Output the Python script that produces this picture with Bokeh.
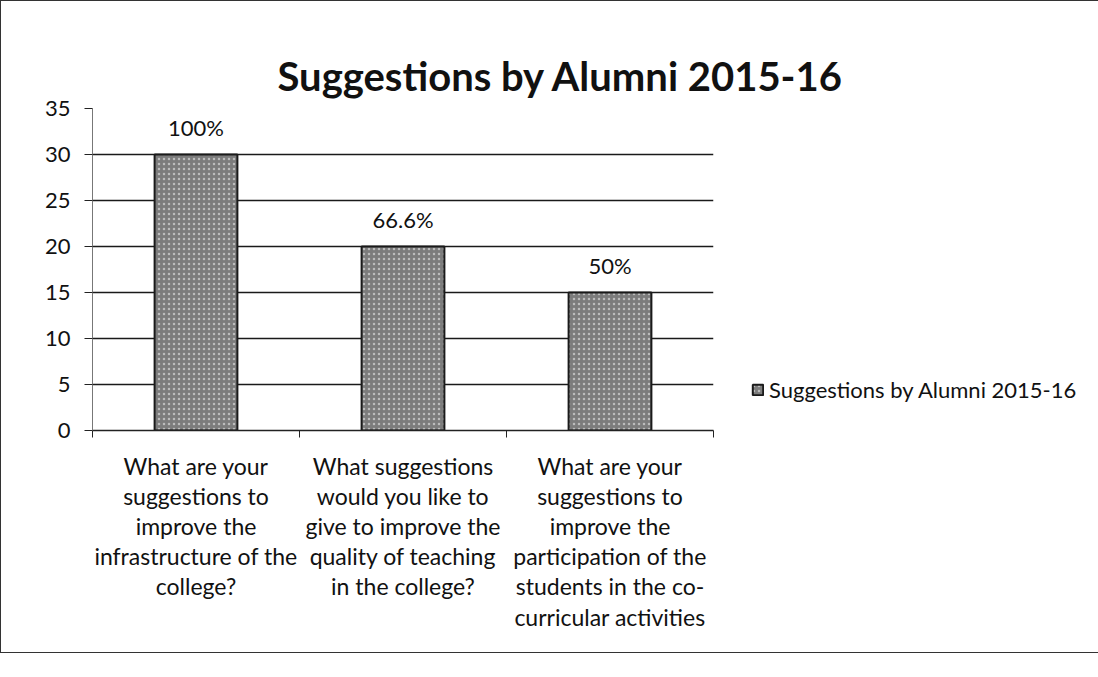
from bokeh.plotting import figure
from bokeh.models import (Range1d, FixedTicker, Legend, LegendItem, ColumnDataSource, Title)
from bokeh.core.properties import value
from bokeh.embed import file_html
from bokeh.resources import INLINE

categories = [
    "What are your\nsuggestions to\nimprove the\ninfrastructure of the\ncollege?",
    "What suggestions\nwould you like to\ngive to improve the\nquality of teaching\nin the college?",
    "What are your\nsuggestions to\nimprove the\nparticipation of the\nstudents in the co-\ncurricular activities",
]
values = [30, 20, 15]
pct_labels = ["100%", "66.6%", "50%"]
y_ticks = [0, 5, 10, 15, 20, 25, 30, 35]
series_name = "Suggestions by Alumni 2015-16"
title_text = "Suggestions by Alumni 2015-16"

FONT = "Lato"
xs = [i + 0.5 for i in range(len(categories))]

p = figure(frame_width=621, frame_height=322, output_backend="svg", toolbar_location=None,
           x_range=Range1d(0, 3), y_range=Range1d(0, 35),
           min_border_left=91, min_border_right=0, min_border_top=107, min_border_bottom=222)
p.outline_line_color = None
p.background_fill_color = "white"
p.border_fill_color = "white"

src = ColumnDataSource(dict(x=xs, top=values, lab=pct_labels))
r = p.vbar(x="x", top="top", width=0.4, source=src, fill_color="#7c7c7c",
           line_color="#1a1a1a", line_width=2,
           hatch_pattern="dot", hatch_color="#bdbdbd", hatch_scale=5, hatch_weight=1)
p.text(x="x", y="top", text="lab", source=src, text_align="center", text_baseline="bottom",
       y_offset=-14, text_font=value(FONT), text_font_size="22px", text_color="#111111")

# axes
p.xaxis.ticker = FixedTicker(ticks=xs, minor_ticks=[0, 1, 2, 3])
p.xaxis.major_label_overrides = {x: c for x, c in zip(xs, categories)}
p.xaxis.major_tick_out = 0
p.xaxis.major_tick_in = 0
p.xaxis.minor_tick_out = 7
p.xaxis.minor_tick_in = 0
p.xaxis.minor_tick_line_color = "#222222"
p.xaxis.axis_line_color = "#222222"
p.xaxis.axis_line_width = 1.5
p.xaxis.major_label_text_font = FONT
p.xaxis.major_label_text_font_size = "23px"
p.xaxis.major_label_text_line_height = 1.08
p.xaxis.major_label_text_color = "#111111"
p.xaxis.major_label_standoff = 14

p.yaxis.ticker = FixedTicker(ticks=y_ticks)
p.yaxis.minor_tick_line_color = None
p.yaxis.major_tick_out = 8
p.yaxis.major_tick_in = 0
p.yaxis.major_tick_line_color = "#222222"
p.yaxis.axis_line_color = "#777777"
p.yaxis.axis_line_width = 1
p.yaxis.major_label_text_font = FONT
p.yaxis.major_label_text_font_size = "22px"
p.yaxis.major_label_text_color = "#111111"
p.yaxis.major_label_standoff = 14

p.xgrid.grid_line_color = None
p.ygrid.ticker = FixedTicker(ticks=y_ticks)
p.ygrid.grid_line_color = "#1a1a1a"
p.ygrid.grid_line_width = 1.5
p.ygrid.level = "underlay"

t = Title(text=title_text, align="left", offset=185, text_font=FONT,
          text_font_size="40px", text_font_style="bold", text_color="#111111", standoff=18)
p.add_layout(t, "above")

legend = Legend(items=[LegendItem(label=series_name, renderers=[r])],
                location=(38, 27), label_text_font=FONT, label_text_font_size="22px",
                label_text_color="#111111", border_line_color=None,
                background_fill_alpha=0, glyph_width=13, glyph_height=13,
                label_standoff=5, padding=0, margin=0)
p.add_layout(legend, "right")

p.styles = {"border": "1px solid #333333"}

open("out.html", "w").write(file_html(p, INLINE))
